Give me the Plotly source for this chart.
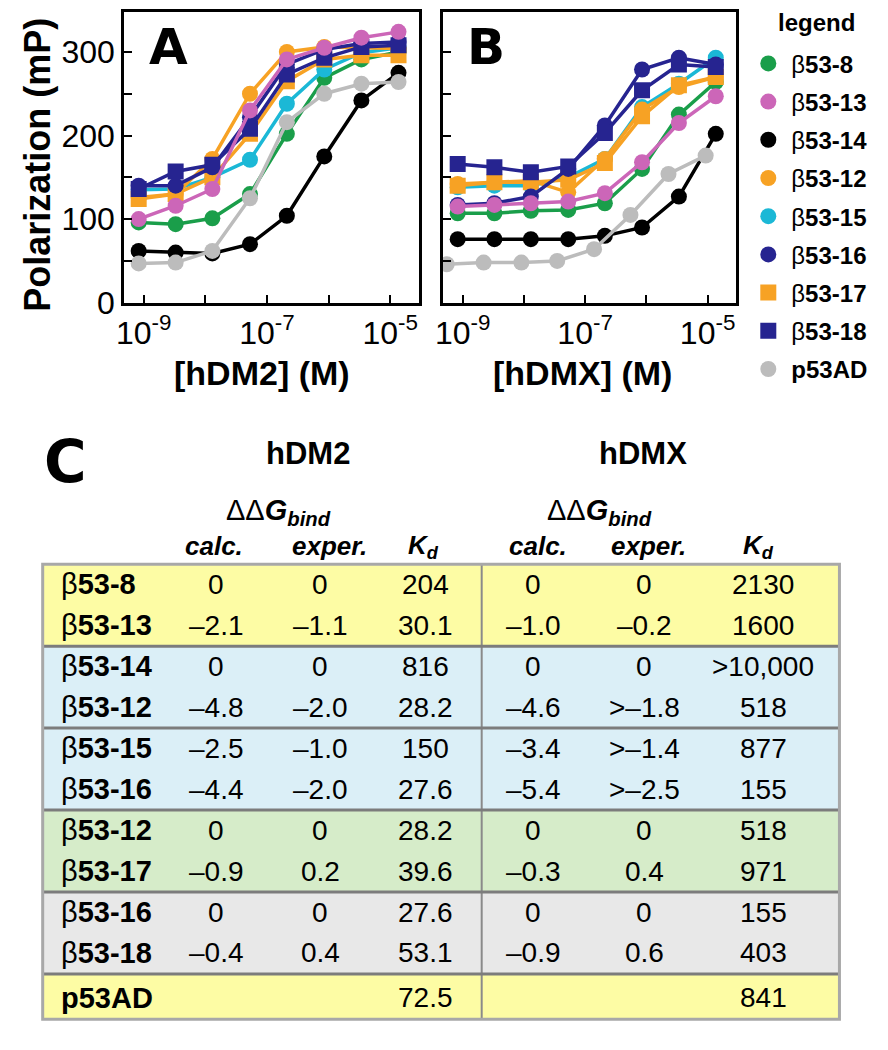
import plotly.graph_objects as go

W, H = 888, 1050
def px(x): return x / W
def py(y): return 1 - y / H

# ---------------- data ----------------
conc = [8.3e-10, 3.3e-9, 1.3e-8, 5.3e-8, 2.1e-7, 8.5e-7, 3.4e-6, 1.36e-5]
conc_p53AD_hdmx = [5.5e-10, 2.2e-9, 9.1e-9, 3.5e-8, 1.4e-7, 5.5e-7, 2.3e-6, 9.3e-6]

names = ["β53-8", "β53-13", "β53-14", "β53-12", "β53-15", "β53-16", "β53-17", "β53-18", "p53AD"]

hdm2_b8 = [96, 94, 101, 130, 202, 269, 291, 300]
hdm2_b13 = [100, 116, 136, 230, 291, 305, 317, 324]
hdm2_b14 = [62, 60, 59, 70, 104, 175, 242, 275]
hdm2_b12 = [126, 130, 172, 250, 300, 306, 305, 304]
hdm2_b15 = [135, 136, 150, 171, 238, 279, 299, 305]
hdm2_b16 = [140, 140, 162, 222, 285, 303, 310, 312]
hdm2_b17 = [124, 130, 150, 202, 265, 291, 296, 296]
hdm2_b18 = [136, 157, 165, 208, 273, 293, 306, 308]
hdm2_p53 = [47, 48, 62, 125, 216, 250, 262, 264]

hdmx_b8 = [107, 107, 110, 111, 119, 160, 225, 264]
hdmx_b13 = [115, 117, 119, 121, 131, 168, 215, 247]
hdmx_b14 = [76, 76, 76, 76, 80, 90, 127, 202]
hdmx_b12 = [142, 144, 146, 132, 172, 231, 258, 270]
hdmx_b15 = [138, 140, 140, 150, 172, 234, 262, 293]
hdmx_b16 = [117, 119, 127, 160, 212, 279, 293, 285]
hdmx_b17 = [140, 144, 144, 147, 167, 223, 260, 270]
hdmx_b18 = [166, 162, 156, 163, 203, 254, 285, 282]
hdmx_p53 = [46, 48, 48, 50, 64, 105, 154, 176]

x_tickvals = [1e-9, 1e-8, 1e-7, 1e-6, 1e-5]
x_ticktext = ["10<sup>-9</sup>", "", "10<sup>-7</sup>", "", "10<sup>-5</sup>"]
y_tickvals = [0, 50, 100, 150, 200, 250, 300]
y_ticktext = ["0", "", "100", "", "200", "", "300"]

# table
row_labels = ["β<b>53-8</b>", "β<b>53-13</b>", "β<b>53-14</b>", "β<b>53-12</b>", "β<b>53-15</b>",
              "β<b>53-16</b>", "β<b>53-12</b>", "β<b>53-17</b>", "β<b>53-16</b>", "β<b>53-18</b>",
              "<b>p53AD</b>"]
t_hdm2_calc = ["0", "–2.1", "0", "–4.8", "–2.5", "–4.4", "0", "–0.9", "0", "–0.4", ""]
t_hdm2_exper = ["0", "–1.1", "0", "–2.0", "–1.0", "–2.0", "0", "0.2", "0", "0.4", ""]
t_hdm2_kd = ["204", "30.1", "816", "28.2", "150", "27.6", "28.2", "39.6", "27.6", "53.1", "72.5"]
t_hdmx_calc = ["0", "–1.0", "0", "–4.6", "–3.4", "–5.4", "0", "–0.3", "0", "–0.9", ""]
t_hdmx_exper = ["0", "–0.2", "0", ">–1.8", ">–1.4", ">–2.5", "0", "0.4", "0", "0.6", ""]
t_hdmx_kd = ["2130", "1600", ">10,000", "518", "877", "155", "518", "971", "155", "403", "841"]
group_colors = ["#fdfca4", "#dbeff7", "#dbeff7", "#d6ecc9", "#e8e8e8", "#fdfca4"]

# ---------------- styles ----------------
FONT = "Arial, Liberation Sans, sans-serif"
HEAVY = "Arial Black, DejaVu Sans, sans-serif"
GREEN, PINK, BLACK, ORANGE = "#1a9e4a", "#cc66b8", "#000000", "#f7a224"
CYAN, NAVY, GRAY = "#1bb8d6", "#262490", "#bcbcbc"

styles = {
    "β53-8": (GREEN, "circle"), "β53-13": (PINK, "circle"), "β53-14": (BLACK, "circle"),
    "β53-12": (ORANGE, "circle"), "β53-15": (CYAN, "circle"), "β53-16": (NAVY, "circle"),
    "β53-17": (ORANGE, "square"), "β53-18": (NAVY, "square"), "p53AD": (GRAY, "circle"),
}

hdm2 = {"β53-8": hdm2_b8, "β53-13": hdm2_b13, "β53-14": hdm2_b14, "β53-12": hdm2_b12,
        "β53-15": hdm2_b15, "β53-16": hdm2_b16, "β53-17": hdm2_b17, "β53-18": hdm2_b18,
        "p53AD": hdm2_p53}
hdmx = {"β53-8": hdmx_b8, "β53-13": hdmx_b13, "β53-14": hdmx_b14, "β53-12": hdmx_b12,
        "β53-15": hdmx_b15, "β53-16": hdmx_b16, "β53-17": hdmx_b17, "β53-18": hdmx_b18,
        "p53AD": hdmx_p53}

draw_order = ["β53-14", "β53-8", "β53-15", "β53-12", "β53-17", "β53-16", "β53-18", "p53AD", "β53-13"]

fig = go.Figure()
for nm in draw_order:
    col, sym = styles[nm]
    fig.add_trace(go.Scatter(x=conc, y=hdm2[nm], mode="lines+markers", showlegend=False,
                             line=dict(color=col, width=3.5),
                             marker=dict(color=col, symbol=sym, size=16),
                             xaxis="x", yaxis="y"))
for nm in draw_order:
    col, sym = styles[nm]
    xs = conc_p53AD_hdmx if nm == "p53AD" else conc
    fig.add_trace(go.Scatter(x=xs, y=hdmx[nm], mode="lines+markers", showlegend=False,
                             line=dict(color=col, width=3.5),
                             marker=dict(color=col, symbol=sym, size=16),
                             xaxis="x2", yaxis="y2"))
# legend entries
for i, nm in enumerate(names):
    col, sym = styles[nm]
    lab = "<b>p53AD</b>" if nm == "p53AD" else "β<b>" + nm[1:] + "</b>"
    fig.add_trace(go.Scatter(x=[None], y=[None], mode="markers", name=lab,
                             legendgroup="g%d" % i,
                             marker=dict(color=col, symbol=sym, size=18),
                             xaxis="x", yaxis="y"))

axis_common = dict(showline=True, mirror=True, linecolor="black", linewidth=2.5,
                   ticks="inside", ticklen=8, tickwidth=2, tickcolor="black",
                   showgrid=False, zeroline=False,
                   tickfont=dict(family=FONT, size=32, color="black"))
xr = [-9.32, -4.53]
yr = [0, 348]
fig.update_layout(
    width=W, height=H, margin=dict(l=0, r=0, t=0, b=0),
    paper_bgcolor="white", plot_bgcolor="white",
    xaxis=dict(domain=[px(117), px(415)], type="log", range=xr, anchor="y",
               tickvals=x_tickvals, ticktext=x_ticktext, **axis_common),
    yaxis=dict(domain=[py(308), py(12)], range=yr, anchor="x",
               tickvals=y_tickvals, ticktext=y_ticktext, **axis_common),
    xaxis2=dict(domain=[px(439), px(735)], type="log", range=xr, anchor="y2",
                tickvals=x_tickvals, ticktext=x_ticktext, **axis_common),
    yaxis2=dict(domain=[py(308), py(12)], range=yr, anchor="x2",
                tickvals=y_tickvals, showticklabels=False, **axis_common),
    legend=dict(x=px(744), y=py(42), xanchor="left", yanchor="top",
                font=dict(family=FONT, size=24, color="black"),
                tracegroupgap=4, itemwidth=36, bgcolor="rgba(0,0,0,0)"),
)

ann = []
def A(x, y, text, size, family=FONT, xanchor="center", angle=0, yanchor="middle"):
    ann.append(dict(x=px(x), y=py(y), xref="paper", yref="paper", text=text, showarrow=False,
                    xanchor=xanchor, yanchor=yanchor, textangle=angle,
                    font=dict(family=family, size=size, color="black")))

A(816, 23, "<b>legend</b>", 24)
A(162, 48, "<b>A</b>", 50, HEAVY)
A(482, 48, "<b>B</b>", 50, HEAVY)
A(256, 380, "<b>[hDM2] (M)</b>", 34)
A(580, 380, "<b>[hDMX] (M)</b>", 34)
A(29, 168, "<b>Polarization (mP)</b>", 36, angle=-90)

# table header
A(58, 470, "<b>C</b>", 58, HEAVY)
A(303, 461, "<b>hDM2</b>", 31)
A(641, 461, "<b>hDMX</b>", 31)
ddg = "ΔΔ<b><i>G</i></b><sub><b><i>bind</i></b></sub>"
A(273, 521, ddg, 29)
A(597, 521, ddg, 29)
kd = "<b><i>K</i></b><sub><b><i>d</i></b></sub>"
for x, t in [(208, "<b><i>calc.</i></b>"), (324, "<b><i>exper.</i></b>"), (419, kd),
             (535, "<b><i>calc.</i></b>"), (646, "<b><i>exper.</i></b>"), (757, kd)]:
    A(x, 556, t, 26)

shapes = []
TL, TR = 35, 839
bounds = [574, 657.4, 740.8, 824.2, 907.6, 991, 1037]
for i, c in enumerate(group_colors):
    shapes.append(dict(type="rect", xref="paper", yref="paper", x0=px(TL), x1=px(TR),
                       y0=py(bounds[i + 1]), y1=py(bounds[i]), fillcolor=c,
                       line=dict(width=0), layer="below"))
shapes.append(dict(type="line", xref="paper", yref="paper", x0=px(478), x1=px(478),
                   y0=py(bounds[-1]), y1=py(bounds[0]), line=dict(color="#8a8a8a", width=2)))
for b in bounds[1:-1]:
    shapes.append(dict(type="line", xref="paper", yref="paper", x0=px(TL), x1=px(TR),
                       y0=py(b), y1=py(b), line=dict(color="#7c7c7c", width=3)))
shapes.append(dict(type="rect", xref="paper", yref="paper", x0=px(TL), x1=px(TR),
                   y0=py(bounds[-1]), y1=py(bounds[0]), line=dict(color="#a8a8a8", width=3)))

row_y = []
for g in range(5):
    row_y += [bounds[g] + 20.5, bounds[g] + 62]
row_y.append(1015)
cols = [(210, t_hdm2_calc), (315, t_hdm2_exper), (421, t_hdm2_kd),
        (530, t_hdmx_calc), (642, t_hdmx_exper), (762, t_hdmx_kd)]
for r, yv in enumerate(row_y):
    A(51, yv, row_labels[r], 29, xanchor="left")
    for x, arr in cols:
        if arr[r]:
            A(x, yv, arr[r], 28)

fig.update_layout(annotations=ann, shapes=shapes)
fig.write_html("out.html", config={"displayModeBar": False},
               post_script="document.body.style.margin='0';")
